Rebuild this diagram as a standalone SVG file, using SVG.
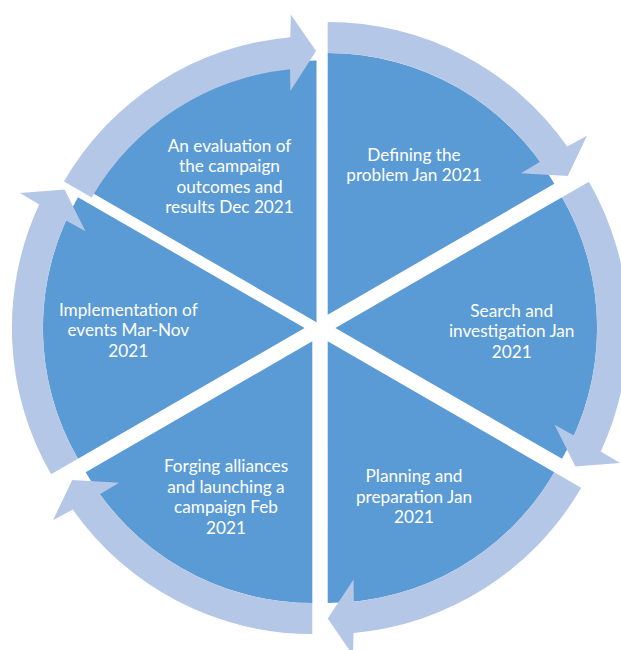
<svg xmlns="http://www.w3.org/2000/svg" xmlns:xlink="http://www.w3.org/1999/xlink" width="621" height="650" viewBox="0 0 621 650">
  <style>
    .wedge { fill: #5B9BD5; }
    .arrow { fill: #B4C7E7; }
    .label { font-family: Lato, "Open Sans", "Liberation Sans", sans-serif; font-size: 17.2px; fill: #FFFFFF; text-anchor: middle; }
  </style>
  <defs>
    <!-- one 60-degree pie slice, apex at the origin, spanning -90..-30 degrees -->
    <path id="slice" d="M0,0 L0,-261.7 A261.7,261.7 0 0 1 226.64,-130.85 Z"/>
    <!-- curved arrow riding on the rim of a slice, head at the -30 degree end -->
    <path id="rimArrow" d="M0,-292.7 A292.7,292.7 0 0 1 239.56,-168.18 L259.29,-178.88 L240.06,-138.6 L193.27,-141.45 L212.46,-152.84 A261.7,261.7 0 0 0 0,-261.7 Z"/>
    <!-- slightly tighter variant for the closing arrow -->
    <path id="rimArrowInner" d="M0,-291 A291,291 0 0 1 238.17,-167.2 L258.06,-178.02 L239.02,-138 L191.66,-140.27 L210.27,-151.26 A259,259 0 0 0 0,-259 Z"/>
  </defs>

  <g id="node-defining">
    <use xlink:href="#slice" class="wedge" transform="translate(327.7,314.66)"/>
    <text class="label"><tspan x="414" y="160.5">Defining the</tspan><tspan x="414" y="181">problem Jan 2021</tspan></text>
  </g>

  <g id="node-search">
    <use xlink:href="#slice" class="wedge" transform="translate(335.4,328) rotate(60)"/>
    <text class="label"><tspan x="511.7" y="316.7">Search and</tspan><tspan x="511.7" y="337.2">investigation Jan</tspan><tspan x="511.7" y="357.5">2021</tspan></text>
  </g>

  <g id="node-planning">
    <use xlink:href="#slice" class="wedge" transform="translate(327.7,341.34) rotate(120)"/>
    <text class="label"><tspan x="414" y="482.3">Planning and</tspan><tspan x="414" y="502.8">preparation Jan</tspan><tspan x="414" y="523.3">2021</tspan></text>
  </g>

  <g id="node-forging">
    <use xlink:href="#slice" class="wedge" transform="translate(312.3,341.34) rotate(180)"/>
    <text class="label"><tspan x="226" y="472.3">Forging alliances</tspan><tspan x="226" y="492.8">and launching a</tspan><tspan x="226" y="513.3">campaign Feb</tspan><tspan x="226" y="533.6">2021</tspan></text>
  </g>

  <g id="node-implementation">
    <use xlink:href="#slice" class="wedge" transform="translate(304.6,328) rotate(240)"/>
    <text class="label"><tspan x="128.3" y="315.7">Implementation of</tspan><tspan x="128.3" y="336.4">events Mar-Nov</tspan><tspan x="128.3" y="356.8">2021</tspan></text>
  </g>

  <g id="node-evaluation">
    <use xlink:href="#slice" class="wedge" transform="translate(316.5,322.3) rotate(300)"/>
    <text class="label"><tspan x="229.5" y="151.7">An evaluation of</tspan><tspan x="229.5" y="172.1">the campaign</tspan><tspan x="229.5" y="192.5">outcomes and</tspan><tspan x="229.5" y="212.8">results Dec 2021</tspan></text>
  </g>

  <g id="connectors">
    <use xlink:href="#rimArrow" class="arrow" transform="translate(327.7,314.66)"/>
    <use xlink:href="#rimArrow" class="arrow" transform="translate(335.4,328) rotate(60)"/>
    <use xlink:href="#rimArrow" class="arrow" transform="translate(327.7,341.34) rotate(120)"/>
    <use xlink:href="#rimArrow" class="arrow" transform="translate(312.3,341.34) rotate(180)"/>
    <use xlink:href="#rimArrow" class="arrow" transform="translate(304.6,328) rotate(240)"/>
    <use xlink:href="#rimArrowInner" class="arrow" transform="translate(316,327) rotate(300)"/>
  </g>
</svg>
